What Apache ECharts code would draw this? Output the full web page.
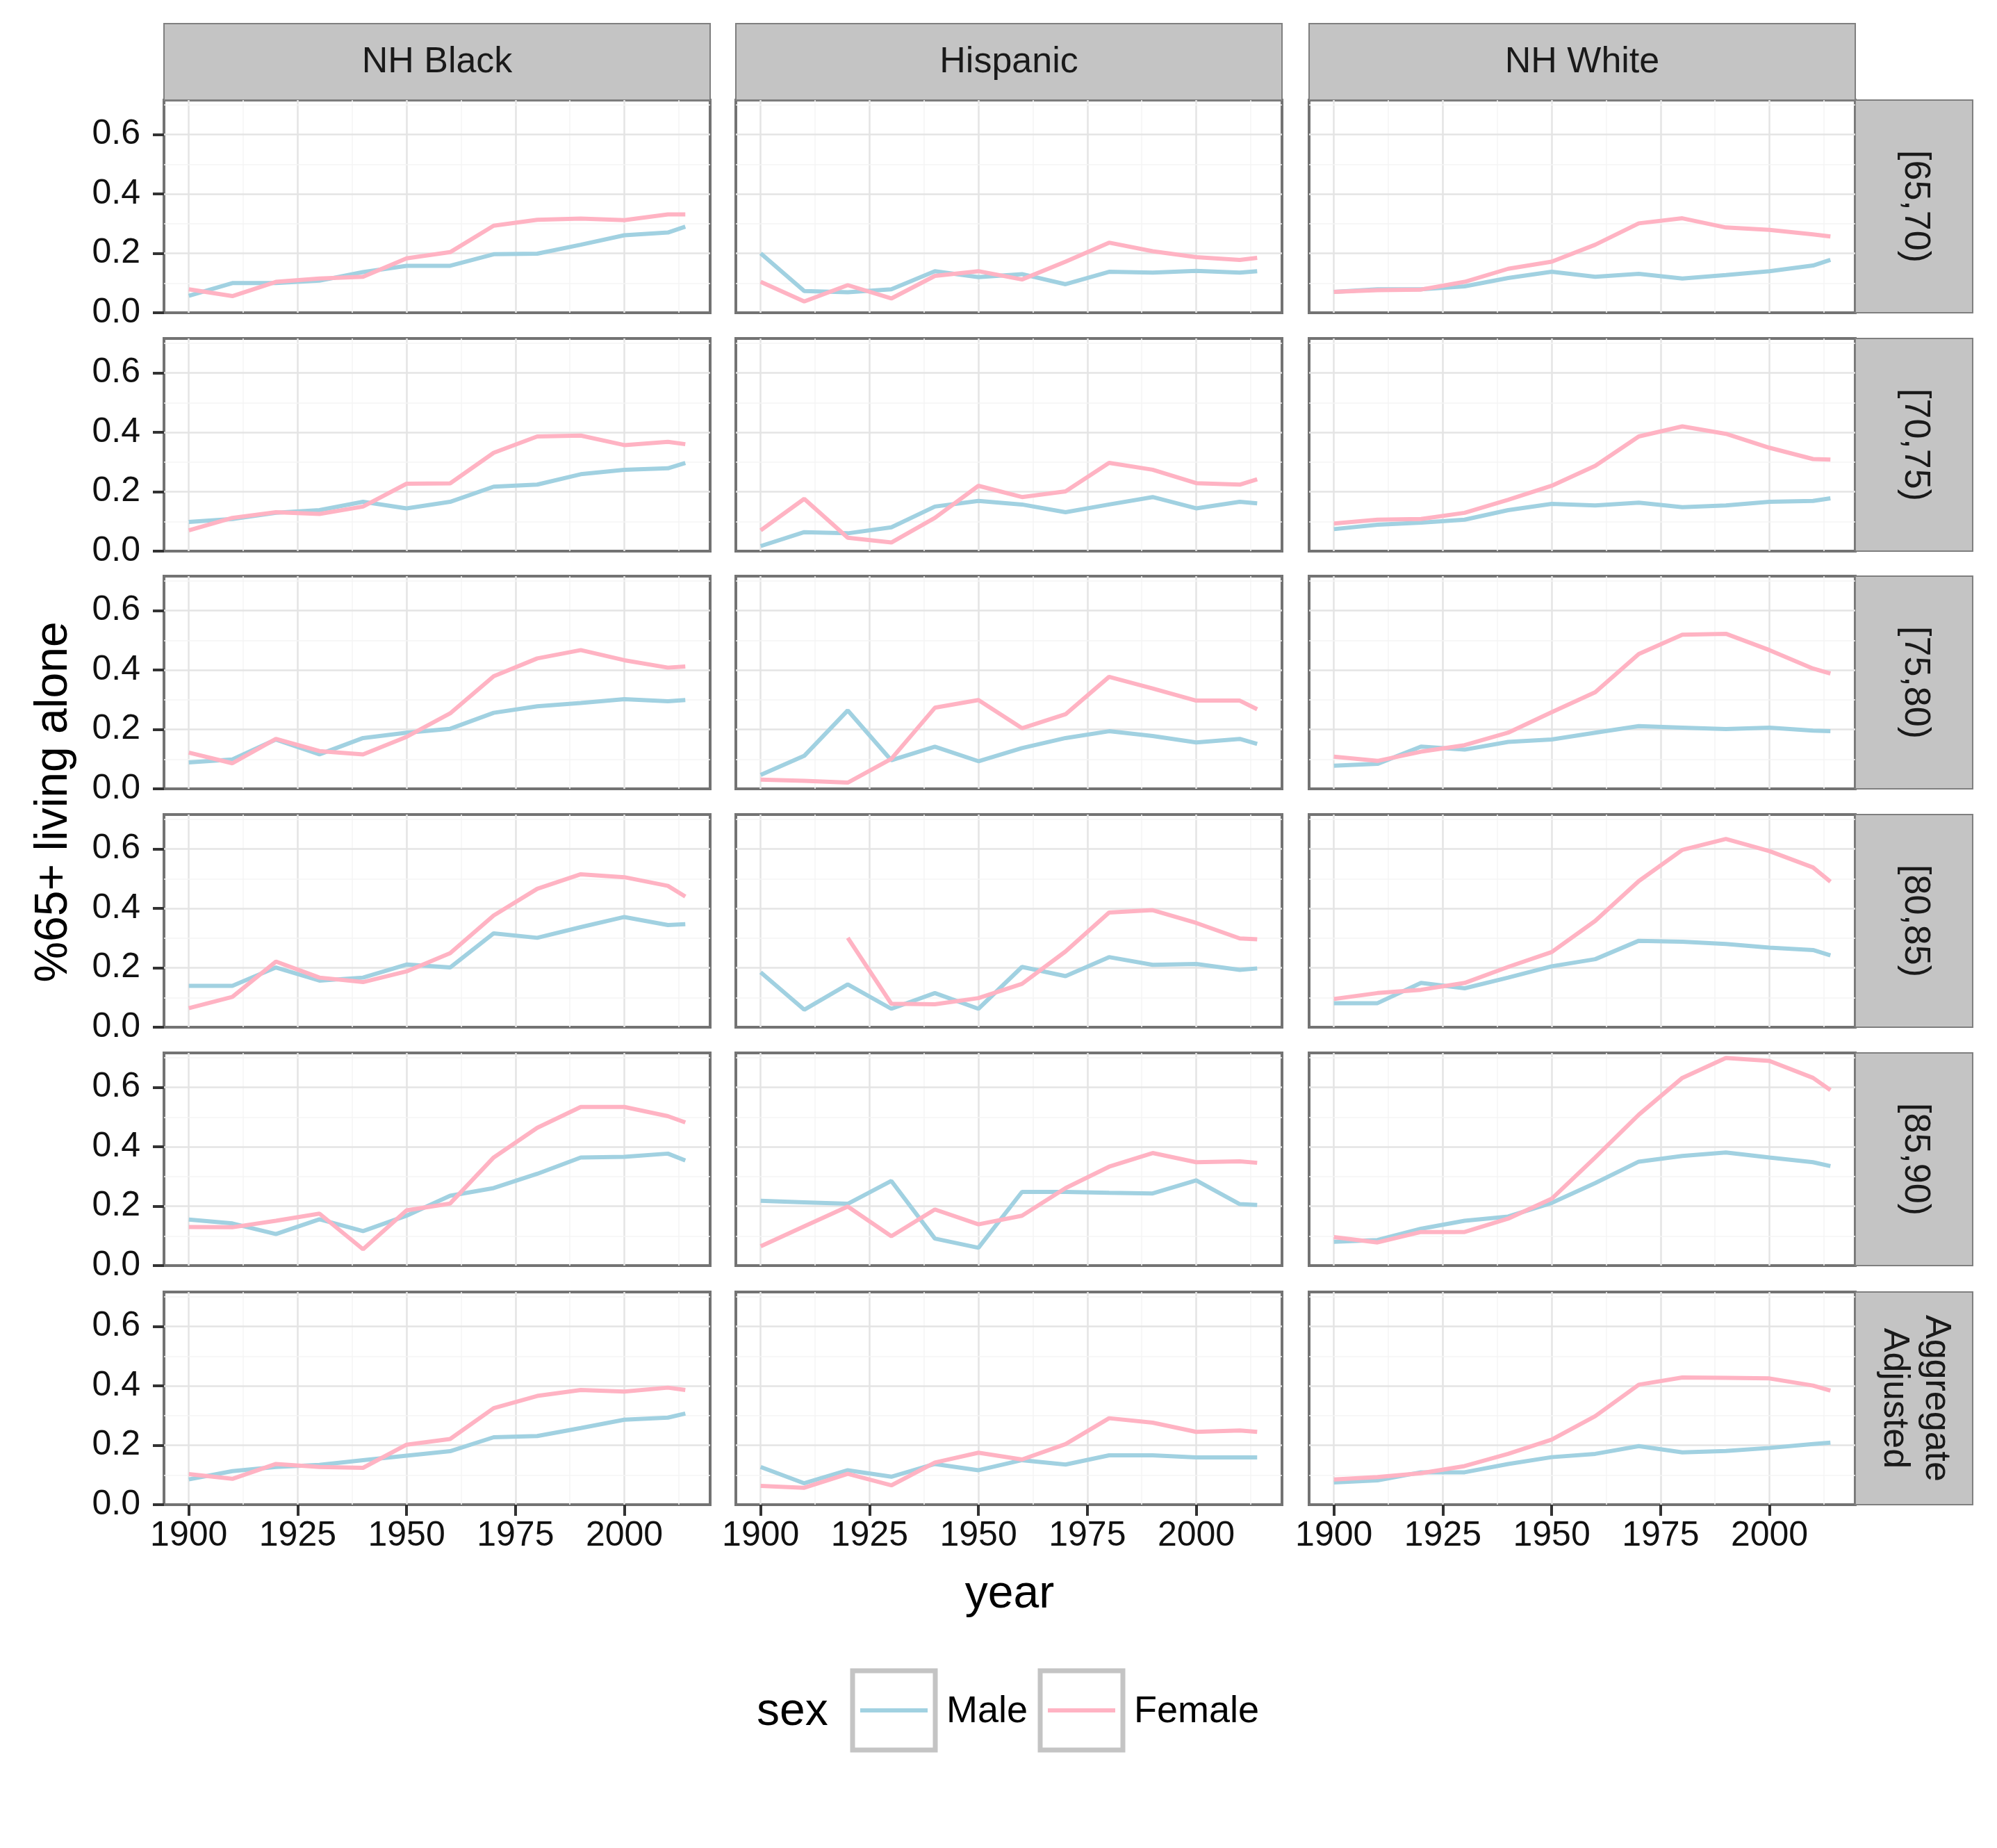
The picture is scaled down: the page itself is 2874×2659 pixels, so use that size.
<!DOCTYPE html>
<html>
<head>
<meta charset="utf-8">
<script src="https://cdn.jsdelivr.net/npm/echarts@6/dist/echarts.min.js"></script>
<style>
  html, body { margin: 0; padding: 0; background: #fff; }
  #main { width: 2874px; height: 2659px; }
</style>
</head>
<body>
<div id="main"></div>
<script>
// facets
var races = ['NH Black', 'Hispanic', 'NH White'];
var ageGroups = ['[65,70)', '[70,75)', '[75,80)', '[80,85)', '[85,90)', 'Aggregate\nAdjusted'];
var years = [1900, 1910, 1920, 1930, 1940, 1950, 1960, 1970, 1980, 1990, 2000, 2010, 2014];
var xTicks = [1900, 1925, 1950, 1975, 2000];
var xMinor = [1912.5, 1937.5, 1962.5, 1987.5, 2012.5];
var yTicks = [0, 0.2, 0.4, 0.6];
var yMinor = [0.1, 0.3, 0.5, 0.7];

// one row per age group, one value per year
var blackMale = [
    [0.057, 0.100, 0.100, 0.108, 0.137, 0.158, 0.158, 0.197, 0.199, 0.229, 0.261, 0.270, 0.290],
    [0.098, 0.108, 0.129, 0.138, 0.166, 0.144, 0.166, 0.217, 0.224, 0.259, 0.274, 0.279, 0.297],
    [0.089, 0.099, 0.166, 0.116, 0.171, 0.189, 0.202, 0.256, 0.278, 0.289, 0.302, 0.295, 0.299],
    [0.139, 0.139, 0.201, 0.157, 0.167, 0.211, 0.201, 0.316, 0.301, 0.337, 0.371, 0.344, 0.347],
    [0.155, 0.142, 0.106, 0.156, 0.116, 0.168, 0.235, 0.261, 0.309, 0.364, 0.366, 0.377, 0.354],
    [0.085, 0.113, 0.127, 0.134, 0.150, 0.165, 0.180, 0.227, 0.231, 0.258, 0.286, 0.293, 0.307]
];
var blackFemale = [
    [0.079, 0.056, 0.104, 0.115, 0.121, 0.183, 0.204, 0.293, 0.313, 0.317, 0.312, 0.331, 0.331],
    [0.070, 0.112, 0.131, 0.125, 0.150, 0.227, 0.228, 0.331, 0.386, 0.389, 0.357, 0.368, 0.360],
    [0.122, 0.086, 0.168, 0.127, 0.116, 0.175, 0.254, 0.379, 0.439, 0.467, 0.433, 0.408, 0.412],
    [0.064, 0.102, 0.221, 0.167, 0.152, 0.188, 0.249, 0.376, 0.466, 0.515, 0.505, 0.476, 0.440],
    [0.130, 0.129, 0.151, 0.175, 0.055, 0.186, 0.209, 0.364, 0.464, 0.534, 0.534, 0.503, 0.482],
    [0.103, 0.087, 0.137, 0.127, 0.124, 0.202, 0.221, 0.325, 0.366, 0.386, 0.381, 0.394, 0.386]
];
var hispMale = [
    [0.200, 0.073, 0.069, 0.079, 0.140, 0.120, 0.130, 0.096, 0.138, 0.135, 0.141, 0.135, 0.140],
    [0.017, 0.064, 0.060, 0.080, 0.150, 0.169, 0.157, 0.131, 0.157, 0.182, 0.144, 0.166, 0.161],
    [0.047, 0.111, 0.264, 0.096, 0.142, 0.093, 0.137, 0.171, 0.194, 0.178, 0.156, 0.168, 0.151],
    [0.185, 0.059, 0.144, 0.062, 0.115, 0.062, 0.203, 0.172, 0.236, 0.210, 0.213, 0.193, 0.198],
    [0.218, 0.213, 0.208, 0.285, 0.091, 0.060, 0.248, 0.248, 0.245, 0.243, 0.287, 0.207, 0.204],
    [0.127, 0.072, 0.116, 0.094, 0.137, 0.116, 0.150, 0.135, 0.166, 0.166, 0.159, 0.159, 0.159]
];
var hispFemale = [
    [0.104, 0.038, 0.093, 0.048, 0.124, 0.140, 0.112, 0.172, 0.236, 0.207, 0.187, 0.178, 0.185],
    [0.070, 0.176, 0.045, 0.029, 0.112, 0.220, 0.182, 0.201, 0.297, 0.274, 0.229, 0.224, 0.242],
    [0.031, 0.027, 0.021, 0.101, 0.273, 0.299, 0.204, 0.251, 0.377, 0.338, 0.297, 0.297, 0.268],
    [null, null, 0.301, 0.079, 0.077, 0.098, 0.146, 0.255, 0.386, 0.394, 0.351, 0.299, 0.296],
    [0.065, 0.132, 0.199, 0.099, 0.189, 0.139, 0.168, 0.261, 0.333, 0.379, 0.348, 0.351, 0.346],
    [0.063, 0.057, 0.104, 0.065, 0.142, 0.175, 0.152, 0.204, 0.291, 0.276, 0.245, 0.250, 0.245]
];
var whiteMale = [
    [0.070, 0.079, 0.079, 0.089, 0.117, 0.138, 0.121, 0.131, 0.115, 0.127, 0.140, 0.159, 0.178],
    [0.074, 0.089, 0.096, 0.106, 0.138, 0.159, 0.154, 0.163, 0.148, 0.154, 0.166, 0.169, 0.178],
    [0.078, 0.084, 0.142, 0.132, 0.158, 0.166, 0.189, 0.211, 0.206, 0.201, 0.206, 0.196, 0.194],
    [0.081, 0.081, 0.149, 0.131, 0.167, 0.205, 0.229, 0.291, 0.288, 0.280, 0.268, 0.260, 0.242],
    [0.080, 0.086, 0.124, 0.151, 0.165, 0.211, 0.278, 0.350, 0.369, 0.381, 0.364, 0.348, 0.335],
    [0.075, 0.082, 0.109, 0.109, 0.137, 0.160, 0.171, 0.197, 0.176, 0.181, 0.191, 0.204, 0.209]
];
var whiteFemale = [
    [0.070, 0.076, 0.078, 0.104, 0.148, 0.172, 0.229, 0.301, 0.318, 0.287, 0.279, 0.264, 0.257],
    [0.093, 0.106, 0.108, 0.129, 0.173, 0.220, 0.287, 0.386, 0.420, 0.395, 0.348, 0.310, 0.308],
    [0.108, 0.094, 0.125, 0.147, 0.189, 0.258, 0.325, 0.454, 0.519, 0.522, 0.467, 0.405, 0.388],
    [0.095, 0.115, 0.126, 0.149, 0.203, 0.253, 0.358, 0.492, 0.597, 0.634, 0.593, 0.538, 0.490],
    [0.096, 0.078, 0.113, 0.113, 0.158, 0.225, 0.364, 0.508, 0.632, 0.699, 0.689, 0.632, 0.591],
    [0.085, 0.093, 0.106, 0.130, 0.171, 0.219, 0.298, 0.404, 0.428, 0.427, 0.425, 0.401, 0.384]
];

var maleData = [blackMale, hispMale, whiteMale];
var femaleData = [blackFemale, hispFemale, whiteFemale];

var MALE = '#a1d1e1', FEMALE = '#ffb3c3';
var FONT = 'Liberation Sans';
var colLeft = [236, 1059, 1884], panelW = 786;
var rowTop = [144, 487, 829, 1172, 1515, 1859], panelH = 306;

function pairs(vals) {
    return years.map(function (y, i) { return [y, vals[i]]; });
}

var grids = [], xAxes = [], yAxes = [], series = [], graphics = [];
var major = { color: '#e4e4e4', width: 2.5, type: 'solid' };
var minor = { color: '#f4f4f4', width: 1.5, type: 'solid' };
var gridLines = [];
xTicks.forEach(function (v) { gridLines.push({ xAxis: v, lineStyle: major }); });
xMinor.forEach(function (v) { gridLines.push({ xAxis: v, lineStyle: minor }); });
yTicks.slice(1).forEach(function (v) { gridLines.push({ yAxis: v, lineStyle: major }); });
yMinor.forEach(function (v) { gridLines.push({ yAxis: v, lineStyle: minor }); });

var idx = 0;
for (var r = 0; r < ageGroups.length; r++) {
    for (var c = 0; c < races.length; c++) {
        grids.push({
            left: colLeft[c], top: rowTop[r], width: panelW, height: panelH,
            show: true, borderColor: '#737373', borderWidth: 4, backgroundColor: 'transparent'
        });
        var bottomRow = r === ageGroups.length - 1, leftCol = c === 0;
        xAxes.push({
            type: 'value', gridIndex: idx, min: 1894.3, max: 2019.7,
            axisLine: { show: false },
            axisTick: { show: bottomRow, customValues: xTicks, length: 16, lineStyle: { color: '#333', width: 4 } },
            axisLabel: {
                show: bottomRow, customValues: xTicks, margin: 20, fontFamily: FONT, fontSize: 50, color: '#111',
                formatter: function (v) { return String(v); }
            },
            splitLine: { show: false }
        });
        yAxes.push({
            type: 'value', gridIndex: idx, min: 0, max: 0.716,
            axisLine: { show: false },
            axisTick: { show: leftCol, customValues: yTicks, length: 16, lineStyle: { color: '#333', width: 4 } },
            axisLabel: {
                show: leftCol, customValues: yTicks, margin: 34, fontFamily: FONT, fontSize: 50, color: '#111',
                formatter: function (v) { return v.toFixed(1); }
            },
            splitLine: { show: false }
        });
        series.push({
            type: 'line', xAxisIndex: idx, yAxisIndex: idx, data: [], z: 1, silent: true,
            markLine: {
                silent: true, symbol: 'none', z: 1, animation: false,
                label: { show: false }, lineStyle: { type: 'solid' }, data: gridLines
            }
        });
        series.push({
            name: 'Male', type: 'line', xAxisIndex: idx, yAxisIndex: idx, z: 3,
            data: pairs(maleData[c][r]), showSymbol: false, symbol: 'none',
            lineStyle: { color: MALE, width: 6 }, itemStyle: { color: MALE }
        });
        series.push({
            name: 'Female', type: 'line', xAxisIndex: idx, yAxisIndex: idx, z: 4,
            data: pairs(femaleData[c][r]), showSymbol: false, symbol: 'none', connectNulls: false,
            lineStyle: { color: FEMALE, width: 6 }, itemStyle: { color: FEMALE }
        });
        idx++;
    }
}

// strips on top
races.forEach(function (name, c) {
    graphics.push({
        type: 'rect', shape: { x: colLeft[c], y: 34, width: panelW, height: 110 },
        style: { fill: '#c4c4c4', stroke: '#7f7f7f', lineWidth: 2 }
    });
    graphics.push({
        type: 'text', x: colLeft[c] + panelW / 2, y: 90,
        style: { text: name, align: 'center', verticalAlign: 'middle', font: '52px ' + FONT, fill: '#1a1a1a' }
    });
});
// strips on the right
ageGroups.forEach(function (name, r) {
    graphics.push({
        type: 'rect', shape: { x: colLeft[2] + panelW, y: rowTop[r], width: 169, height: panelH },
        style: { fill: '#c4c4c4', stroke: '#7f7f7f', lineWidth: 2 }
    });
    graphics.push({
        type: 'text', x: colLeft[2] + panelW + 86, y: rowTop[r] + panelH / 2, rotation: -Math.PI / 2,
        style: { text: name, align: 'center', verticalAlign: 'middle', font: '52px ' + FONT, lineHeight: 60, fill: '#1a1a1a' }
    });
});
// axis titles
graphics.push({
    type: 'text', x: 1453, y: 2295,
    style: { text: 'year', align: 'center', verticalAlign: 'middle', font: '66px ' + FONT, fill: '#000' }
});
graphics.push({
    type: 'text', x: 78, y: 1154, rotation: Math.PI / 2,
    style: { text: '%65+ living alone', align: 'center', verticalAlign: 'middle', font: '66px ' + FONT, fill: '#000' }
});
// legend
graphics.push({
    type: 'text', x: 1089, y: 2464,
    style: { text: 'sex', align: 'left', verticalAlign: 'middle', font: '66px ' + FONT, fill: '#000' }
});
[[1224, MALE, 'Male'], [1494, FEMALE, 'Female']].forEach(function (k) {
    graphics.push({
        type: 'rect', shape: { x: k[0] + 3, y: 2404, width: 119, height: 114 },
        style: { fill: '#fff', stroke: '#c4c4c4', lineWidth: 7 }
    });
    graphics.push({
        type: 'line', shape: { x1: k[0] + 14, y1: 2461, x2: k[0] + 111, y2: 2461 },
        style: { stroke: k[1], lineWidth: 6 }
    });
    graphics.push({
        type: 'text', x: k[0] + 138, y: 2463,
        style: { text: k[2], align: 'left', verticalAlign: 'middle', font: '54px ' + FONT, fill: '#000' }
    });
});

var chart = echarts.init(document.getElementById('main'));
chart.setOption({
    animation: false,
    backgroundColor: '#fff',
    grid: grids,
    xAxis: xAxes,
    yAxis: yAxes,
    series: series,
    graphic: graphics
});
</script>
</body>
</html>
